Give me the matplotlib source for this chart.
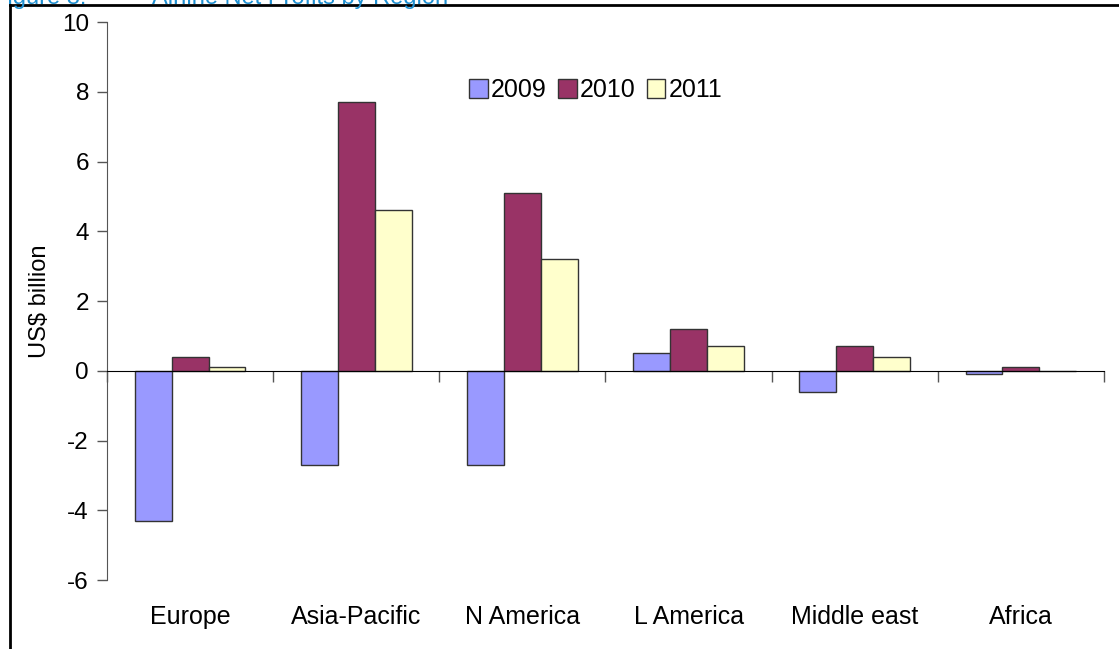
import numpy as np
import matplotlib.pyplot as plt
from matplotlib.lines import Line2D

plt.rcParams['font.family'] = ['Liberation Sans', 'DejaVu Sans']
plt.rcParams['axes.unicode_minus'] = False

regions = ['Europe', 'Asia-Pacific', 'N America', 'L America', 'Middle east', 'Africa']
years = ['2009', '2010', '2011']
profit_2009 = [-4.3, -2.7, -2.7, 0.5, -0.6, -0.1]
profit_2010 = [0.4, 7.7, 5.1, 1.2, 0.7, 0.1]
profit_2011 = [0.1, 4.6, 3.2, 0.7, 0.4, 0.0]
colors = ['#9999FF', '#993366', '#FFFFCC']

fig = plt.figure(figsize=(11.19, 6.49), dpi=100)
ax = fig.add_axes([0.0956, 0.1063, 0.891, 0.8598])

x = np.arange(len(regions))
w = 0.222
series = [profit_2009, profit_2010, profit_2011]
for i, vals in enumerate(series):
    ax.bar(x + (i - 1) * w, vals, width=w, color=colors[i], edgecolor='#333333',
           linewidth=1, label=years[i], zorder=2)

ax.set_xlim(-0.5, len(regions) - 0.5)
ax.set_ylim(-6, 10)
ax.set_yticks(np.arange(-6, 11, 2))
ax.tick_params(axis='y', labelsize=17.5, length=7, width=1, color='#555555', pad=6)
ax.set_ylabel('US$ billion', fontsize=17, labelpad=8)

# x axis drawn at zero with tick marks between categories
ax.spines['top'].set_visible(False)
ax.spines['right'].set_visible(False)
ax.spines['left'].set_color('#555555')
ax.spines['bottom'].set_position(('data', 0))
ax.spines['bottom'].set_color('black')
ax.set_xticks(np.arange(-0.5, len(regions), 1))
ax.set_xticklabels([])
ax.tick_params(axis='x', length=8, width=1, color='#555555', direction='out')

for xi, name in zip(x, regions):
    ax.text(xi, -0.066, name, transform=ax.get_xaxis_transform(),
            ha='center', va='center', fontsize=18)

leg = ax.legend(loc='center', bbox_to_anchor=(0.49, 0.878), ncol=3, frameon=False,
                fontsize=18, handlelength=0.75, handleheight=0.75, handletextpad=0.12,
                columnspacing=0.45)

# page border and cut-off caption
fig.add_artist(Line2D([10 / 1119, 10 / 1119], [0, 1 - 5 / 649], color='black', lw=2))
fig.add_artist(Line2D([10 / 1119, 1], [1 - 5 / 649, 1 - 5 / 649], color='black', lw=2))
fig.text(-0.006, 1 - 4 / 649, 'Figure 8:', color='#1e8fd0', fontsize=17, va='baseline')
fig.text(152 / 1119, 1 - 4 / 649, 'Airline Net Profits by Region', color='#1e8fd0',
         fontsize=17, va='baseline')

fig.savefig('out.png', dpi=100)
